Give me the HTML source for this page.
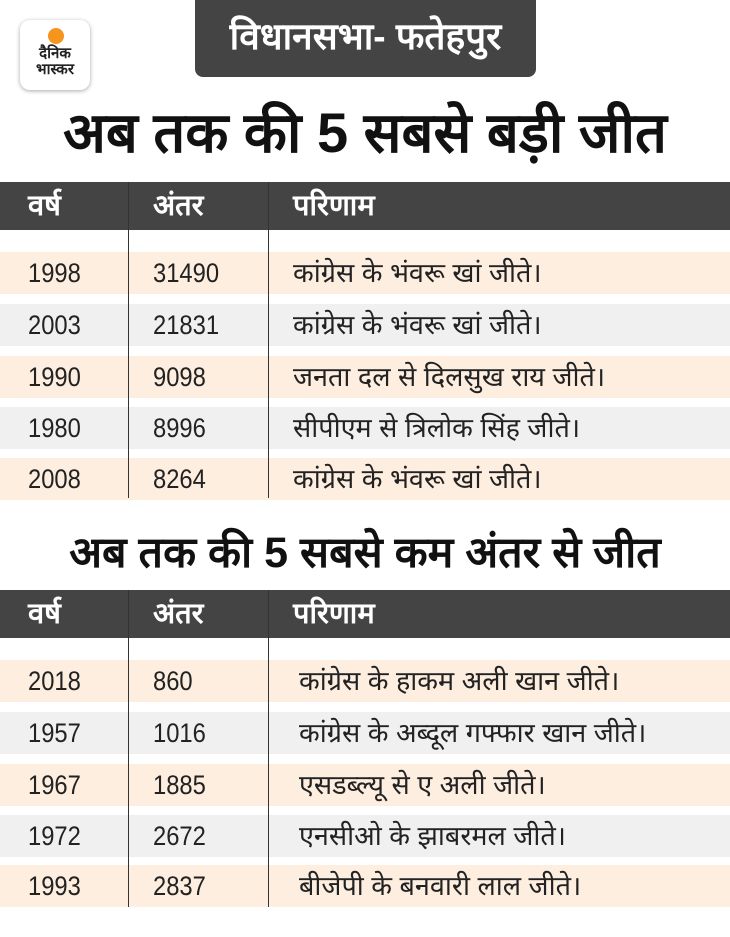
<!DOCTYPE html>
<html><head><meta charset="utf-8"><style>
body{margin:0;width:730px;height:937px;background:#fff;position:relative;overflow:hidden;font-family:"Liberation Sans","Noto Sans CJK SC",sans-serif;}
.a{position:absolute;}
.hdr{position:absolute;left:0;width:730px;height:48px;background:#444;}
.row{position:absolute;left:0;width:730px;height:42px;}
.b{background:#fdeee0}.g{background:#f0f0f0}
.t{position:absolute;font-size:27px;color:#222;white-space:nowrap;transform:scaleX(0.88);transform-origin:left center;line-height:42px;}
.d{position:absolute;font-size:27px;color:#222;white-space:nowrap;line-height:42px;}
.h{position:absolute;font-size:29px;color:#fff;font-weight:bold;line-height:44px;white-space:nowrap;}
.v{position:absolute;width:1px;background:#333;}
</style></head><body>
<div class="a" style="left:20px;top:20px;width:70px;height:70px;border-radius:10px;background:#fff;box-shadow:0 1px 4px rgba(0,0,0,0.35);"></div>
<div class="a" style="left:48px;top:28px;width:16px;height:16px;border-radius:50%;background:#f7941d;"></div>
<div class="a" style="left:22px;top:46px;width:66px;text-align:center;font-size:15px;font-weight:bold;line-height:16px;color:#222;">दैनिक<br>भास्कर</div>
<div class="a" style="left:195px;top:0;width:341px;height:77px;background:#444;border-radius:0 0 8px 8px;color:#fff;font-size:37px;font-weight:bold;text-align:center;line-height:74px;">विधानसभा- फतेहपुर</div>
<div class="a" style="left:0;top:98px;width:730px;text-align:center;font-size:56px;font-weight:bold;color:#111;line-height:70px;">अब तक की 5 सबसे बड़ी जीत</div>

<div class="hdr" style="top:182px"></div>
<div class="h" style="left:28px;top:184px">वर्ष</div>
<div class="h" style="left:153px;top:184px">अंतर</div>
<div class="h" style="left:293px;top:184px">परिणाम</div>
<div class="row b" style="top:252px"></div>
<div class="row g" style="top:304px"></div>
<div class="row b" style="top:356px"></div>
<div class="row g" style="top:407px"></div>
<div class="row b" style="top:458px"></div>
<div class="v" style="left:128px;top:182px;height:316px"></div>
<div class="v" style="left:268px;top:182px;height:316px"></div>
<div class="t" style="left:28px;top:252px">1998</div><div class="t" style="left:153px;top:252px">31490</div><div class="d" style="left:293px;top:252px">कांग्रेस के भंवरू खां जीते।</div>
<div class="t" style="left:28px;top:304px">2003</div><div class="t" style="left:153px;top:304px">21831</div><div class="d" style="left:293px;top:304px">कांग्रेस के भंवरू खां जीते।</div>
<div class="t" style="left:28px;top:356px">1990</div><div class="t" style="left:153px;top:356px">9098</div><div class="d" style="left:293px;top:356px">जनता दल से दिलसुख राय जीते।</div>
<div class="t" style="left:28px;top:407px">1980</div><div class="t" style="left:153px;top:407px">8996</div><div class="d" style="left:293px;top:407px">सीपीएम से त्रिलोक सिंह जीते।</div>
<div class="t" style="left:28px;top:458px">2008</div><div class="t" style="left:153px;top:458px">8264</div><div class="d" style="left:293px;top:458px">कांग्रेस के भंवरू खां जीते।</div>

<div class="a" style="left:0;top:523px;width:730px;text-align:center;font-size:43px;font-weight:bold;color:#111;line-height:60px;">अब तक की 5 सबसे कम अंतर से जीत</div>

<div class="hdr" style="top:590px"></div>
<div class="h" style="left:28px;top:592px">वर्ष</div>
<div class="h" style="left:153px;top:592px">अंतर</div>
<div class="h" style="left:293px;top:592px">परिणाम</div>
<div class="row b" style="top:660px"></div>
<div class="row g" style="top:712px"></div>
<div class="row b" style="top:764px"></div>
<div class="row g" style="top:815px"></div>
<div class="row b" style="top:865px"></div>
<div class="v" style="left:128px;top:590px;height:317px"></div>
<div class="v" style="left:268px;top:590px;height:317px"></div>
<div class="t" style="left:28px;top:660px">2018</div><div class="t" style="left:153px;top:660px">860</div><div class="d" style="left:299px;top:660px">कांग्रेस के हाकम अली खान जीते।</div>
<div class="t" style="left:28px;top:712px">1957</div><div class="t" style="left:153px;top:712px">1016</div><div class="d" style="left:299px;top:712px">कांग्रेस के अब्दूल गफ्फार खान जीते।</div>
<div class="t" style="left:28px;top:764px">1967</div><div class="t" style="left:153px;top:764px">1885</div><div class="d" style="left:299px;top:764px">एसडब्ल्यू से ए अली जीते।</div>
<div class="t" style="left:28px;top:815px">1972</div><div class="t" style="left:153px;top:815px">2672</div><div class="d" style="left:299px;top:815px">एनसीओ के झाबरमल जीते।</div>
<div class="t" style="left:28px;top:865px">1993</div><div class="t" style="left:153px;top:865px">2837</div><div class="d" style="left:299px;top:865px">बीजेपी के बनवारी लाल जीते।</div>
</body></html>
